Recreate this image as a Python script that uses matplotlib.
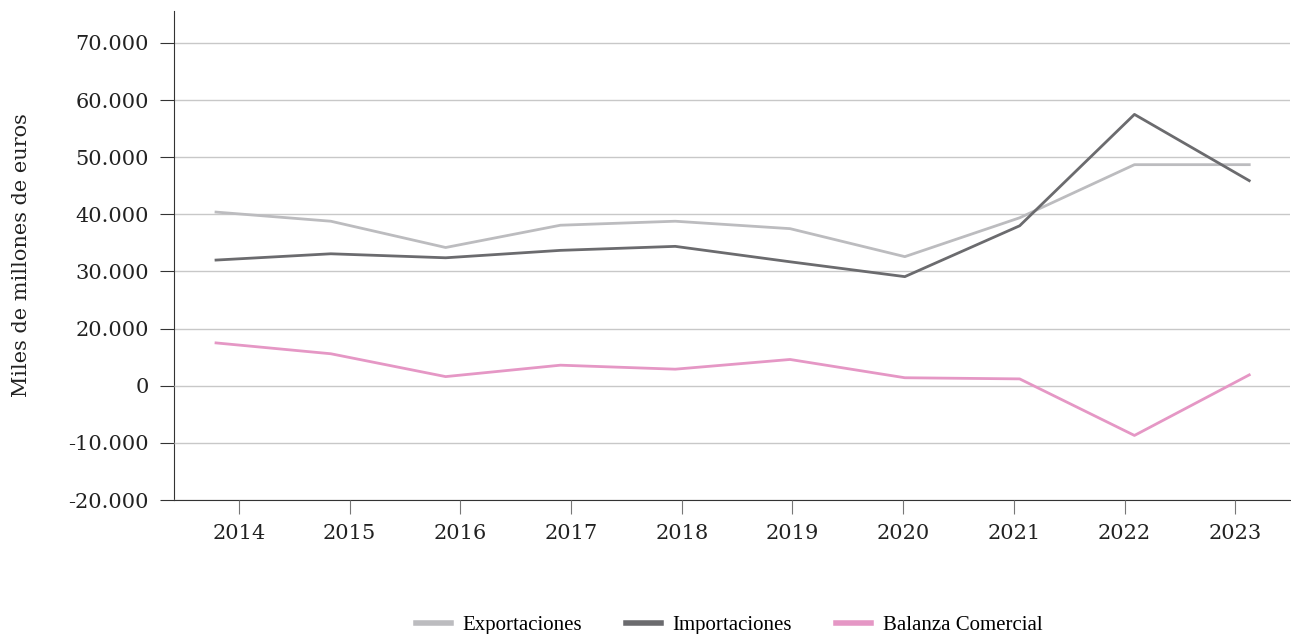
import matplotlib
matplotlib.use("Agg")
import matplotlib.pyplot as plt

# Datos (miles de millones de euros)
years = [2014, 2015, 2016, 2017, 2018, 2019, 2020, 2021, 2022, 2023]
exportaciones = [40400, 38800, 34200, 38100, 38800, 37500, 32600, 39400, 48700, 48700]
importaciones = [32000, 33100, 32400, 33700, 34400, 31700, 29100, 38000, 57500, 45900]
balanza = [7500, 5600, 1600, 3600, 2900, 4600, 1400, 1200, -8700, 1900]

ticks_sup = [20000, 30000, 40000, 50000, 60000, 70000]
ticks_inf = [-20000, -10000, 0]

c_exp = "#bcbcbf"
c_imp = "#6b6b6e"
c_bal = "#e597c5"
c_grid = "#c8c8c8"
c_axis = "#333333"

plt.rcParams["font.family"] = ["DejaVu Serif"]


def fmt(v):
    return "{:,}".format(v).replace(",", ".")


fig = plt.figure(figsize=(12.91, 6.34), dpi=100)
W, H = 1291, 634
ax = fig.add_axes([174 / W, (H - 500) / H, (1290 - 174) / W, (500 - 11) / H])

# Exportaciones / Importaciones
ax.plot(years, exportaciones, color=c_exp, linewidth=2, label="Exportaciones")
ax.plot(years, importaciones, color=c_imp, linewidth=2, label="Importaciones")
ax.set_xlim(2013.634, 2023.355)
ax.set_ylim(-10000, 75600)
ax.set_yticks(ticks_sup)
ax.set_yticklabels([fmt(v) for v in ticks_sup])
ax.set_xticks([])
ax.grid(axis="y", color=c_grid, linewidth=1)
ax.set_axisbelow(True)
for s in ["top", "right"]:
    ax.spines[s].set_visible(False)
ax.spines["left"].set_color(c_axis)
ax.spines["bottom"].set_color(c_axis)
ax.tick_params(axis="y", length=10, color=c_axis, labelsize=15, pad=8,
               labelcolor="#222222")
ax.set_ylabel("Miles de millones de euros", fontsize=15, labelpad=32,
              color="#222222")

# Balanza comercial
axb = ax.twinx()
axb.plot(years, balanza, color=c_bal, linewidth=2, label="Balanza Comercial")
axb.set_ylim(-20000, 65600)
axb.set_yticks(ticks_inf)
axb.set_yticklabels([fmt(v) for v in ticks_inf])
axb.yaxis.tick_left()
axb.grid(axis="y", color=c_grid, linewidth=1)
axb.set_axisbelow(True)
for s in axb.spines.values():
    s.set_visible(False)
axb.tick_params(axis="y", length=10, color=c_axis, labelsize=15, pad=8,
                labelcolor="#222222")

# Eje de categorias
axc = ax.twiny()
axc.set_xlim(-0.587, 9.494)
axc.xaxis.tick_bottom()
axc.set_xticks(range(len(years)))
axc.set_xticklabels([str(y) for y in years])
axc.tick_params(axis="x", length=10, color="#777777", labelsize=15, pad=7,
                labelcolor="#222222")
for s in axc.spines.values():
    s.set_visible(False)

handles = ax.get_lines() + axb.get_lines()
fig.legend(handles, [h.get_label() for h in handles], loc="center",
           bbox_to_anchor=(729 / W, 1 - 625 / H), ncol=3, frameon=False,
           prop={"family": "Liberation Serif", "size": 15},
           handlelength=1.7, handletextpad=0.55, columnspacing=2.1)
for h in fig.legends[0].get_lines():
    h.set_linewidth(4)

fig.savefig("out.png", dpi=100)
